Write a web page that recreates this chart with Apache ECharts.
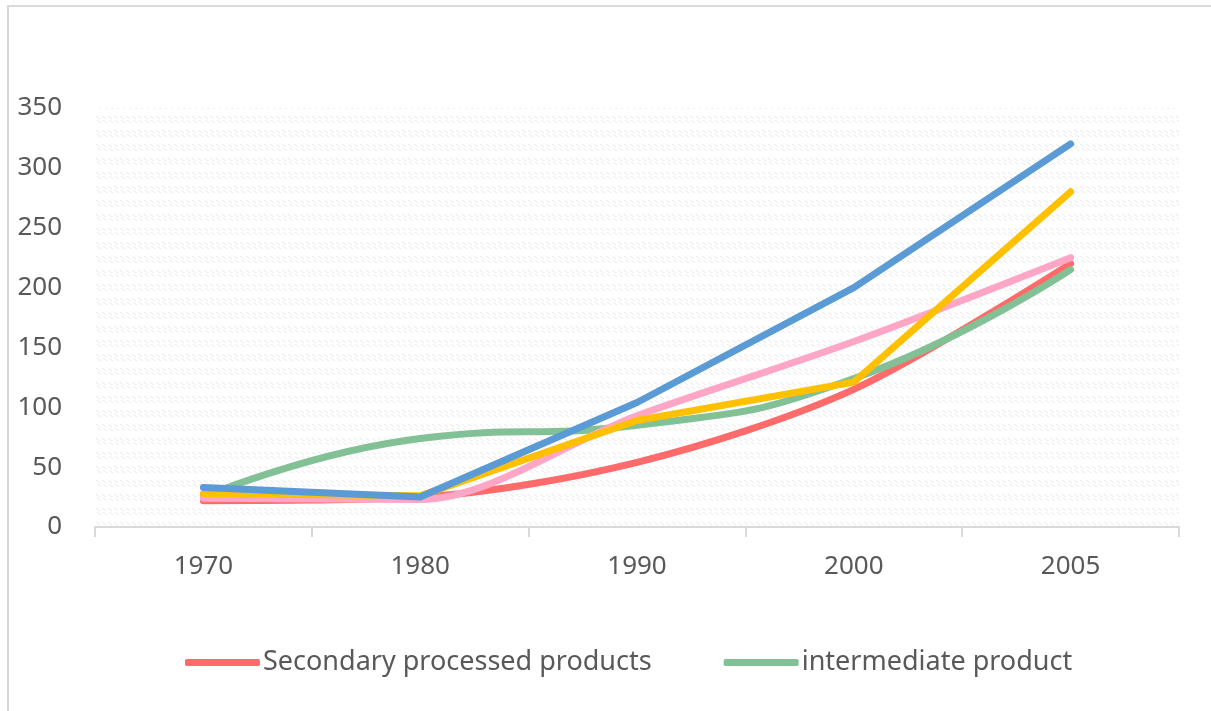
<!DOCTYPE html>
<html>
<head>
<meta charset="utf-8">
<script src="https://cdn.jsdelivr.net/npm/echarts@6/dist/echarts.min.js"></script>
<style>
  html, body { margin: 0; padding: 0; background: #fff; }
  #container { width: 1211px; height: 711px; }
</style>
</head>
<body>
<div id="container"></div>
<script>
// 数据
var years = ['1970', '1980', '1990', '2000', '2005'];
var secondary = [22, 25, 54, 115, 220];      // 红
var intermediate = [25, 74, 85, 124, 215];   // 绿
var pinkLine = [24, 23, 93, 155, 225];       // 粉
var yellowLine = [28, 26, 89, 121, 280];     // 黄
var blueLine = [33, 25, 104, 200, 320];      // 蓝
var yTicks = [0, 350, 50]; // min, max, interval

// 背景斜纹
function makeHatch() {
    var c = document.createElement('canvas');
    c.width = 6;
    c.height = 14;
    var ctx = c.getContext('2d');
    ctx.strokeStyle = 'rgba(0,0,0,0.09)';
    ctx.lineWidth = 1;
    ctx.beginPath();
    ctx.moveTo(0, 4); ctx.lineTo(4, 7);
    ctx.moveTo(1, 8); ctx.lineTo(5, 11);
    ctx.stroke();
    return c;
}

var textColor = '#595959';
var font = 'Noto Sans';

var dom = document.getElementById('container');
var myChart = echarts.init(dom);
var option = {
    backgroundColor: '#fff',
    animation: false,
    graphic: [{
        type: 'rect',
        shape: { x: 8, y: 6, width: 1240, height: 740 },
        style: { fill: 'none', stroke: '#d9d9d9', lineWidth: 2 },
        silent: true
    }],
    grid: { left: 95, right: 32, top: 108, bottom: 184 },
    legend: {
        data: ['Secondary processed products', 'intermediate product'],
        left: 180,
        top: 644,
        icon: 'roundRect',
        itemWidth: 75,
        itemHeight: 7,
        itemGap: 72,
        textStyle: { color: textColor, fontSize: 27, fontFamily: font, padding: [0, 0, 0, -2] }
    },
    xAxis: {
        type: 'category',
        data: years,
        boundaryGap: true,
        axisLine: { lineStyle: { color: '#d9d9d9', width: 2 } },
        axisTick: { show: true, length: 10, lineStyle: { color: '#d9d9d9', width: 2 } },
        axisLabel: { color: textColor, fontSize: 26, fontFamily: font, margin: 27 }
    },
    yAxis: {
        type: 'value',
        min: yTicks[0],
        max: yTicks[1],
        interval: yTicks[2],
        axisLine: { show: false },
        axisTick: { show: false },
        splitLine: { show: false },
        splitArea: { show: true, areaStyle: { color: [{ image: makeHatch(), repeat: 'repeat' }] } },
        axisLabel: { color: textColor, fontSize: 26, fontFamily: font, margin: 33 }
    },
    series: [
        {
            name: 'Secondary processed products', type: 'line', data: secondary,
            smooth: 0.3, showSymbol: false,
            lineStyle: { color: '#FF6B6B', width: 7, cap: 'round' },
            itemStyle: { color: '#FF6B6B' }
        },
        {
            name: 'intermediate product', type: 'line', data: intermediate,
            smooth: true, showSymbol: false,
            lineStyle: { color: '#82C196', width: 7, cap: 'round' },
            itemStyle: { color: '#82C196' }
        },
        {
            name: 'pink', type: 'line', data: pinkLine,
            smooth: 0.3, showSymbol: false,
            lineStyle: { color: '#FFA5C6', width: 7, cap: 'round' },
            itemStyle: { color: '#FFA5C6' }
        },
        {
            name: 'yellow', type: 'line', data: yellowLine,
            smooth: false, showSymbol: false,
            lineStyle: { color: '#FFC000', width: 7, cap: 'round', join: 'round' },
            itemStyle: { color: '#FFC000' }
        },
        {
            name: 'blue', type: 'line', data: blueLine,
            smooth: false, showSymbol: false,
            lineStyle: { color: '#5B9BD5', width: 7, cap: 'round', join: 'round' },
            itemStyle: { color: '#5B9BD5' }
        }
    ]
};
myChart.setOption(option);
</script>
</body>
</html>
